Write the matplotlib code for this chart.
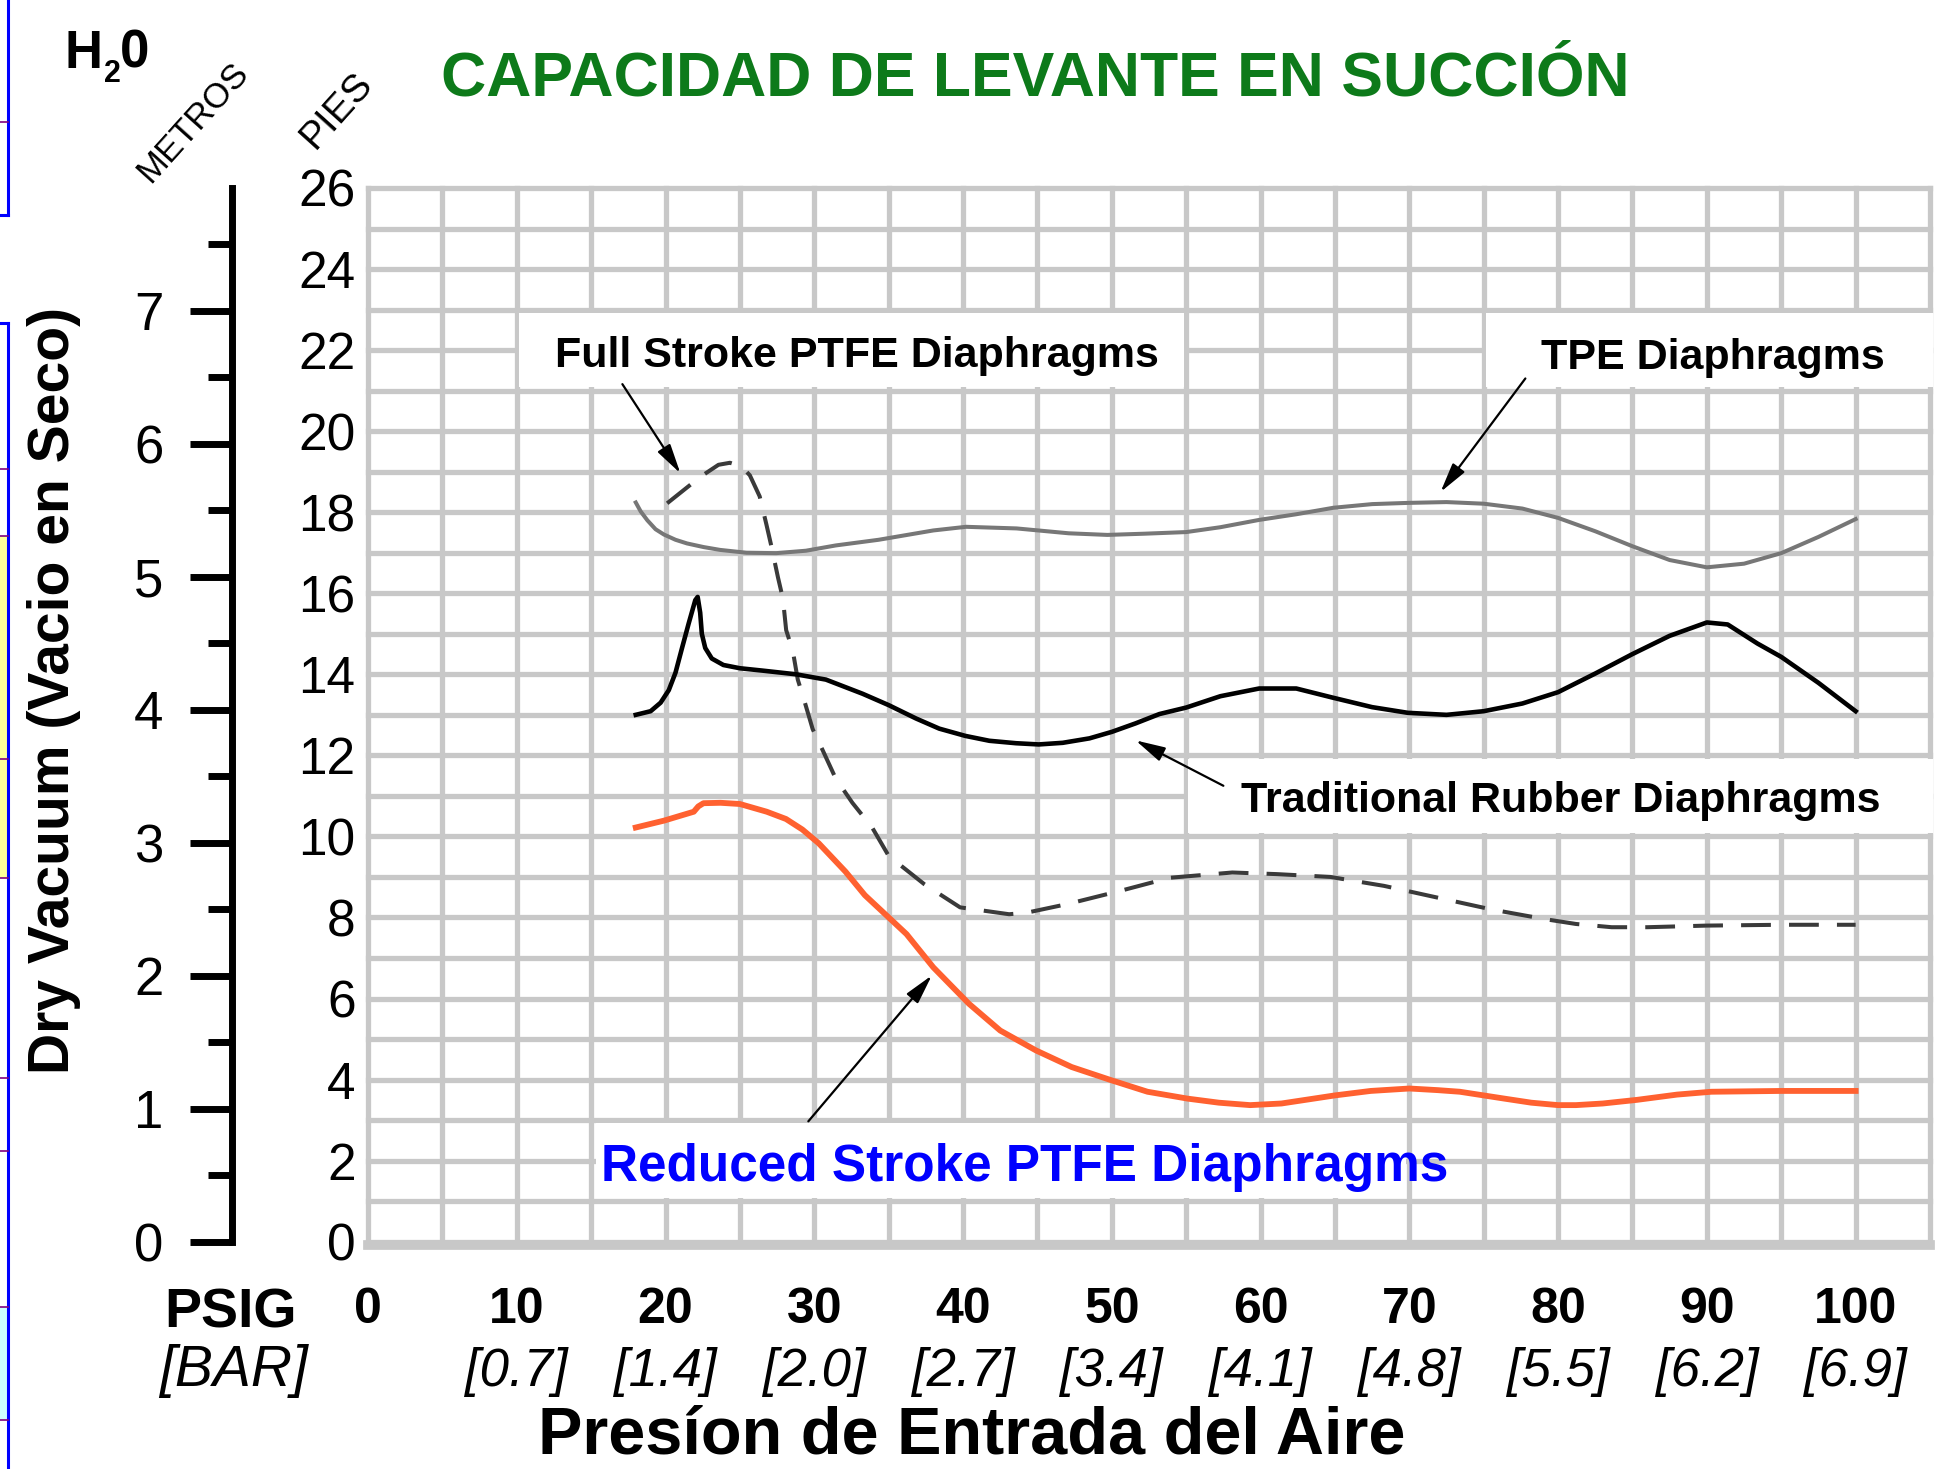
import numpy as np
import matplotlib
matplotlib.use("Agg")
import matplotlib.pyplot as plt
from matplotlib.patches import Rectangle
from matplotlib.lines import Line2D

# =====================
# DATOS
# =====================
psi_ticks = [0, 10, 20, 30, 40, 50, 60, 70, 80, 90, 100]
bar_labels = ["", "[0.7]", "[1.4]", "[2.0]", "[2.7]", "[3.4]",
              "[4.1]", "[4.8]", "[5.5]", "[6.2]", "[6.9]"]
pies_ticks = list(range(0, 27, 2))
metros_ticks = list(range(0, 8))
metros_minor = [0.5, 1.5, 2.5, 3.5, 4.5, 5.5, 6.5, 7.5]

# TPE Diaphragms (gris)
tpe_x = [18.0, 18.33, 18.78, 19.33, 19.89, 20.67, 21.44, 22.56, 23.67, 25.44, 27.44, 29.44, 31.44,
         34.33, 38.0, 40.2, 43.6, 47.1, 49.7, 52.2, 55.0, 57.3, 59.9, 62.4, 64.9, 67.5, 69.9, 72.5,
         75.0, 77.6, 80.0, 82.5, 85.0, 87.5, 90.0, 92.5, 95.0, 97.5, 100.0]
tpe_y = [18.24, 18.02, 17.8, 17.58, 17.45, 17.32, 17.23, 17.14, 17.07, 17.0, 16.99, 17.05, 17.18,
         17.32, 17.55, 17.64, 17.6, 17.48, 17.44, 17.47, 17.51, 17.63, 17.81, 17.95, 18.11, 18.2, 18.23,
         18.25, 18.21, 18.09, 17.86, 17.53, 17.16, 16.82, 16.64, 16.73, 16.99, 17.39, 17.83]

# Traditional Rubber Diaphragms (negro)
rubber_x = [18.0, 19.0, 19.67, 20.22, 20.67, 21.11, 21.56, 22.0, 22.16, 22.33, 22.44, 22.67, 23.11,
            23.89, 25.0, 26.56, 28.78, 30.78, 33.25, 35.0, 36.84, 38.4, 40.16, 41.77, 43.56, 45.09,
            46.7, 48.5, 50.0, 51.6, 53.2, 55.0, 57.3, 59.9, 62.4, 64.9, 67.5, 69.9, 72.5, 75.0, 77.6,
            80.0, 82.5, 85.0, 87.5, 90.0, 91.4, 93.4, 95.0, 97.5, 100.0]
rubber_y = [13.0, 13.09, 13.3, 13.61, 14.04, 14.65, 15.26, 15.83, 15.91, 15.52, 15.0, 14.65, 14.39,
            14.23, 14.15, 14.09, 14.0, 13.87, 13.52, 13.24, 12.91, 12.66, 12.48, 12.36, 12.3, 12.27,
            12.31, 12.42, 12.58, 12.79, 13.02, 13.18, 13.46, 13.65, 13.65, 13.42, 13.19, 13.05, 13.0,
            13.09, 13.28, 13.56, 14.02, 14.5, 14.95, 15.28, 15.23, 14.76, 14.43, 13.79, 13.09]

# Full Stroke PTFE Diaphragms (discontinua)
full_x = [20.11, 22.33, 23.56, 24.33, 25.11, 25.67, 26.33, 26.78, 27.11, 27.56, 27.89, 28.11, 28.56,
          28.89, 29.33, 29.89, 30.56, 31.44, 32.56, 33.89, 35.0, 37.4, 39.8, 43.1, 44.3, 47.0, 50.6,
          53.9, 58.1, 61.1, 64.7, 68.3, 71.9, 75.5, 79.1, 81.2, 83.6, 86.0, 90.0, 95.0, 100.0]
full_y = [18.22, 18.87, 19.17, 19.22, 19.13, 18.91, 18.39, 17.7, 17.17, 16.39, 15.87, 15.09, 14.57,
          13.87, 13.35, 12.65, 12.13, 11.43, 10.83, 10.22, 9.52, 8.82, 8.25, 8.08, 8.12, 8.33, 8.66,
          8.98, 9.11, 9.07, 9.0, 8.78, 8.49, 8.2, 7.96, 7.84, 7.76, 7.76, 7.8, 7.82, 7.82]

# Reduced Stroke PTFE Diaphragms (naranja)
reduced_x = [18.0, 19.9, 21.9, 22.2, 22.55, 23.7, 25.0, 26.8, 28.1, 29.2, 30.3, 32.1, 33.4,
             36.2, 38.0, 40.4, 42.5, 44.9, 47.3, 50.0, 52.4, 55.1, 57.2, 59.3, 61.4, 63.2, 65.0, 67.4,
             70.0, 71.9, 73.4, 76.4, 78.2, 80.0, 81.2, 83.0, 85.3, 88.0, 90.3, 95.0, 100.0]
reduced_y = [10.22, 10.39, 10.61, 10.74, 10.82, 10.83, 10.8, 10.61, 10.43, 10.17, 9.83, 9.13, 8.55,
             7.59, 6.77, 5.87, 5.21, 4.72, 4.31, 3.98, 3.7, 3.53, 3.43, 3.37, 3.41, 3.51, 3.61, 3.72,
             3.78, 3.74, 3.7, 3.53, 3.43, 3.37, 3.37, 3.41, 3.5, 3.63, 3.7, 3.72, 3.72]

# =====================
# ESTILO
# =====================
plt.rcParams["font.family"] = ["Liberation Sans", "DejaVu Sans"]

GRID = "#c8c8c8"
GREEN = "#0d7a1a"

W, H = 1941, 1469
fig = plt.figure(figsize=(W / 100, H / 100), dpi=100)


def fx(px):
    return px / W


def fy(py):
    return 1 - py / H


# area de la cuadricula (pixeles)
X0, X1 = 368, 1930
Y0, Y1 = 1241.7, 188

ax = fig.add_axes([fx(X0), fy(Y0), (X1 - X0) / W, (Y0 - Y1) / H])
ax.set_xlim(0, 105)
ax.set_ylim(0, 26)
for s in ax.spines.values():
    s.set_visible(False)
ax.set_xticks([])
ax.set_yticks(pies_ticks, [str(v) for v in pies_ticks])
ax.tick_params(axis="y", length=0, pad=9, labelsize=37)

# cuadricula
for v in np.arange(0, 106, 5):
    ax.axvline(v, color=GRID, lw=3.8, zorder=0.5, clip_on=False)
for v in range(0, 27):
    ax.axhline(v, color=GRID, lw=3.8, zorder=0.5, clip_on=False)
ax.axhline(-0.07, color=GRID, lw=7, zorder=0.6, clip_on=False)

# cajas blancas detras de los textos
for (bx0, by0, bx1, by1) in [(10.15, 21.08, 54.85, 22.92),
                             (75.15, 21.08, 105.2, 22.92),
                             (55.15, 10.08, 105.2, 11.92),
                             (15.3, 1.08, 69.8, 2.92)]:
    ax.add_patch(Rectangle((bx0, by0), bx1 - bx0, by1 - by0, fc="white", ec="none",
                           zorder=1, clip_on=False))

# curvas
ax.plot(tpe_x, tpe_y, color="#777777", lw=2.9, zorder=2, solid_joinstyle="round")
ax.plot(full_x, full_y, color="#3a3a3a", lw=2.9, ls=(0, (7.4, 4.5)), zorder=2.1)
ax.plot(rubber_x, rubber_y, color="black", lw=3.3, zorder=2.2, solid_joinstyle="round")
ax.plot(reduced_x, reduced_y, color="#ff6130", lw=4.2, zorder=2.3, solid_joinstyle="round")

# textos de las curvas
ax.text(32.85, 21.59, "Full Stroke PTFE Diaphragms", fontweight="bold",
        fontsize=31, ha="center", va="baseline", zorder=4)
ax.text(90.4, 21.53, "TPE Diaphragms", fontweight="bold",
        fontsize=31, ha="center", va="baseline", zorder=4)
ax.text(80.2, 10.6, "Traditional Rubber Diaphragms", fontweight="bold",
        fontsize=31, ha="center", va="baseline", zorder=4)
ax.text(44.15, 1.5, "Reduced Stroke PTFE Diaphragms", fontweight="bold",
        fontsize=37, color="#0000ff", ha="center", va="baseline", zorder=4)

arrow = dict(arrowstyle="-|>,head_length=0.6,head_width=0.15", color="black", lw=1.6,
             mutation_scale=30, shrinkA=0, shrinkB=0)
ax.annotate("", xy=(21.0, 18.96), xytext=(17.1, 21.16), arrowprops=arrow, zorder=4)
ax.annotate("", xy=(72.1, 18.5), xytext=(77.8, 21.3), arrowprops=arrow, zorder=4)
ax.annotate("", xy=(51.6, 12.37), xytext=(57.5, 11.25), arrowprops=arrow, zorder=4)
ax.annotate("", xy=(37.9, 6.57), xytext=(29.6, 2.97), arrowprops=arrow, zorder=4)

# etiquetas del eje x (PSIG y BAR)
for v, b in zip(psi_ticks, bar_labels):
    ax.text(v, (Y0 - 1323) / (Y0 - Y1), str(v), transform=ax.get_xaxis_transform(),
            fontweight="bold", fontsize=36, ha="center", va="baseline")
    ax.text(v, (Y0 - 1386) / (Y0 - Y1), b, transform=ax.get_xaxis_transform(),
            fontstyle="italic", fontsize=38, ha="center", va="baseline")

fig.text(fx(231), fy(1328), "PSIG", fontweight="bold", fontsize=40,
         ha="center", va="baseline")
fig.text(fx(234), fy(1386), "[BAR]", fontstyle="italic", fontsize=41,
         ha="center", va="baseline")

# eje en metros
XM = 231.5
axm = fig.add_axes([fx(XM), fy(Y0), 0.0001, (Y0 - Y1) / H])
axm.patch.set_visible(False)
axm.set_ylim(0, 26 / 3.2808)
axm.set_xticks([])
for k in ["right", "top", "bottom"]:
    axm.spines[k].set_visible(False)
axm.spines["left"].set_linewidth(5)
axm.spines["left"].set_color("black")
axm.set_yticks(metros_ticks, [str(v) for v in metros_ticks])
axm.set_yticks(metros_minor, minor=True)
axm.tick_params(axis="y", which="major", length=30, width=5, pad=19, labelsize=38)
axm.tick_params(axis="y", which="minor", length=17, width=5)

# titulos y rotulos
fig.text(fx(1035), fy(95), "CAPACIDAD DE LEVANTE EN SUCCIÓN", color=GREEN, fontweight="bold",
         fontsize=45, ha="center", va="baseline")
fig.text(fx(54), fy(690), "Dry Vacuum (Vacio en Seco)", fontweight="bold", fontsize=41,
         rotation=90, ha="center", va="center")
fig.text(fx(972), fy(1454), "Presíon de Entrada del Aire", fontweight="bold", fontsize=48,
         ha="center", va="baseline")

fig.text(fx(64), fy(68), "H", fontweight="bold", fontsize=38, va="baseline")
fig.text(fx(104), fy(82), "2", fontweight="bold", fontsize=22, va="baseline")
fig.text(fx(120), fy(68), "0", fontweight="bold", fontsize=38, va="baseline")
fig.text(fx(193), fy(122), "METROS", fontsize=25, rotation=48, rotation_mode="anchor",
         ha="center", va="center")
fig.text(fx(337), fy(110), "PIES", fontsize=28, rotation=48, rotation_mode="anchor",
         ha="center", va="center")

# bordes de la pagina vecina (lado izquierdo)
fig.add_artist(Rectangle((0, fy(878)), fx(8), fy(536) - fy(878), transform=fig.transFigure,
                         fc="#ffff99", ec="none"))
fig.add_artist(Rectangle((0, fy(1420)), fx(8), fy(1307) - fy(1420), transform=fig.transFigure,
                         fc="#ccffff", ec="none"))
for (ya, yb) in [(0, 215), (323, H)]:
    fig.add_artist(Line2D([fx(8), fx(8)], [fy(ya), fy(yb)], transform=fig.transFigure,
                          color="#0000ff", lw=2.2))
for yv in [215, 323]:
    fig.add_artist(Line2D([0, fx(8)], [fy(yv), fy(yv)], transform=fig.transFigure,
                          color="#0000ff", lw=2.2))
for yv in [122, 469, 536, 759, 878, 1078, 1151, 1307, 1420]:
    fig.add_artist(Line2D([0, fx(8)], [fy(yv), fy(yv)], transform=fig.transFigure,
                          color="#800080", lw=1.2))

fig.savefig("out.png", dpi=100)
